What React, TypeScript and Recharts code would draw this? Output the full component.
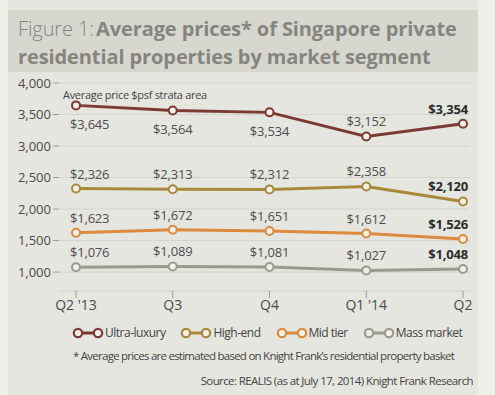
import React from 'react';
import { LineChart, Line, XAxis, YAxis, CartesianGrid, LabelList } from 'recharts';

const quarters = ["Q2 '13", 'Q3', 'Q4', "Q1 '14", 'Q2'];
const ultraLuxury = [3645, 3564, 3534, 3152, 3354];
const highEnd = [2326, 2313, 2312, 2358, 2120];
const midTier = [1623, 1672, 1651, 1612, 1526];
const massMarket = [1076, 1089, 1081, 1027, 1048];
const yTicks = [1000, 1500, 2000, 2500, 3000, 3500, 4000];

const series = [
  { key: 'ultra', name: 'Ultra-luxury', color: '#7b3a33', values: ultraLuxury },
  { key: 'high', name: 'High-end', color: '#a8893a', values: highEnd },
  { key: 'mid', name: 'Mid tier', color: '#dc8a3e', values: midTier },
  { key: 'mass', name: 'Mass market', color: '#9b9a8e', values: massMarket },
];

const data = quarters.map((q, i) => ({
  q,
  ultra: ultraLuxury[i],
  high: highEnd[i],
  mid: midTier[i],
  mass: massMarket[i],
}));

const FONT = '"Open Sans", "DejaVu Sans", sans-serif';
const fmt = (v: number) => '$' + v.toLocaleString('en-US');

// ultra-luxury labels sit under the line for the first three quarters
const makeLabel = (key: string) => (props: any) => {
  const { x, y, value, index } = props;
  const last = index === quarters.length - 1;
  const below = key === 'ultra' && index < 3;
  let anchor: 'start' | 'middle' | 'end' = 'middle';
  let tx = x;
  if (index === 0) { anchor = 'start'; tx = x - 6; }
  if (last) { anchor = 'end'; tx = x + 5; }
  const ty = below ? y + 24 : y - 10;
  return (
    <text x={tx} y={ty} textAnchor={anchor} fontSize={13} fontFamily={FONT} letterSpacing={-0.2}
      fontWeight={last ? 700 : 400} fill={last ? '#2b2b2b' : '#4d4d4d'}>
      {fmt(value)}
    </text>
  );
};

const LegendIcon = ({ color }: { color: string }) => (
  <svg width={32} height={12} style={{ verticalAlign: 'middle' }}>
    <line x1={6} y1={6} x2={26} y2={6} stroke={color} strokeWidth={3} />
    <circle cx={6} cy={6} r={4.2} fill="#f2efe8" stroke={color} strokeWidth={2.2} />
    <circle cx={26} cy={6} r={4.2} fill="#f2efe8" stroke={color} strokeWidth={2.2} />
  </svg>
);

export default function App() {
  const titleLine = { fontSize: 20, lineHeight: '27px', height: 27, color: '#858580', letterSpacing: -0.1, whiteSpace: 'nowrap' as const };
  return (
    <div style={{ position: 'absolute', left: 0, top: 0, width: 495, height: 395, background: '#efefea', fontFamily: FONT, overflow: 'hidden' }}>
      <div style={{ position: 'absolute', left: 8, top: 0, width: 470, height: 395, background: '#e6e6e0' }} />
      <div style={{ position: 'absolute', left: 8, top: 10, width: 470, height: 62, background: '#d7d7cf' }} />
      <div style={{ position: 'absolute', left: 18, top: 15, ...titleLine }}>
        <span style={{ fontWeight: 300, marginRight: 2 }}>Figure 1:</span>
        <span style={{ fontWeight: 700 }}>Average prices* of Singapore private</span>
      </div>
      <div style={{ position: 'absolute', left: 18, top: 43, fontWeight: 700, ...titleLine }}>
        residential properties by market segment
      </div>
      <div style={{ position: 'absolute', left: 63, top: 87, fontSize: 11, color: '#444', letterSpacing: -0.3 }}>
        Average price $psf strata area
      </div>
      <div style={{ position: 'absolute', left: 0, top: 0 }}>
        <LineChart width={495} height={395} data={data} margin={{ top: 83, right: 25, bottom: 74, left: 0 }}>
          <CartesianGrid vertical={false} stroke="#d3d3cc" strokeWidth={1} />
          <XAxis dataKey="q" axisLine={false} tickSize={7} tickLine={{ stroke: '#999' }} height={30}
            padding={{ left: 17, right: 7 }} interval={0}
            tick={{ fontSize: 14, fill: '#4a4a4a', fontFamily: FONT }} />
          <YAxis width={59} domain={[700, 4000]} ticks={yTicks} axisLine={false} tickSize={6}
            tickLine={{ stroke: '#999' }}
            tickFormatter={(v: number) => v.toLocaleString('en-US')}
            tick={{ fontSize: 13, fill: '#4a4a4a', fontFamily: FONT }} />
          {series.map(s => (
            <Line key={s.key} dataKey={s.key} stroke={s.color} strokeWidth={3} isAnimationActive={false}
              dot={{ r: 4, fill: '#f2efe8', stroke: s.color, strokeWidth: 2 }}>
              <LabelList dataKey={s.key} content={makeLabel(s.key)} />
            </Line>
          ))}
        </LineChart>
      </div>
      <div style={{ position: 'absolute', left: 72, top: 324, display: 'flex', fontSize: 12, color: '#444', whiteSpace: 'nowrap' }}>
        {series.map((s, i) => (
          <span key={s.key} style={{ display: 'inline-flex', alignItems: 'center', marginRight: i < 3 ? 15 : 0 }}>
            <LegendIcon color={s.color} />
            <span style={{ marginLeft: 1, letterSpacing: -0.5 }}>{s.name}</span>
          </span>
        ))}
      </div>
      <div style={{ position: 'absolute', left: 73, top: 348, fontSize: 11.5, color: '#444', letterSpacing: -0.75, whiteSpace: 'nowrap' }}>
        * Average prices are estimated based on Knight Frank’s residential property basket
      </div>
      <div style={{ position: 'absolute', right: 22, top: 373, fontSize: 11.5, color: '#444', letterSpacing: -0.6, whiteSpace: 'nowrap' }}>
        Source: REALIS (as at July 17, 2014) Knight Frank Research
      </div>
    </div>
  );
}
